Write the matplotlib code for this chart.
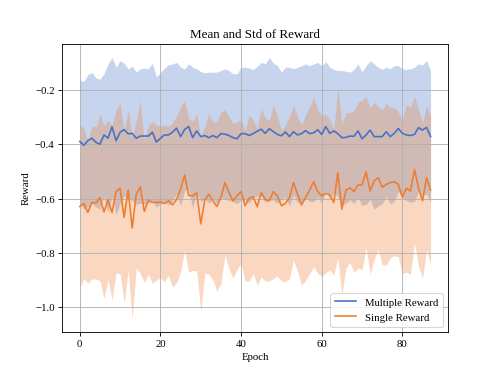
import numpy as np
import matplotlib
matplotlib.use("Agg")
import matplotlib.pyplot as plt

plt.rcParams["font.family"] = ["Liberation Serif", "DejaVu Serif"]

# values
multi_mean = [
    -0.390, -0.404, -0.387, -0.378, -0.393, -0.400, -0.366, -0.378, -0.336, -0.387,
    -0.356, -0.346, -0.362, -0.360, -0.378, -0.370, -0.370, -0.370, -0.356, -0.392,
    -0.378, -0.366, -0.366, -0.356, -0.341, -0.372, -0.346, -0.335, -0.376, -0.351,
    -0.372, -0.368, -0.376, -0.368, -0.376, -0.361, -0.363, -0.368, -0.376, -0.380,
    -0.361, -0.361, -0.368, -0.361, -0.352, -0.345, -0.360, -0.343, -0.354, -0.364,
    -0.369, -0.355, -0.372, -0.354, -0.366, -0.361, -0.350, -0.361, -0.358, -0.347,
    -0.364, -0.335, -0.360, -0.351, -0.361, -0.376, -0.375, -0.370, -0.371, -0.351,
    -0.380, -0.366, -0.348, -0.372, -0.372, -0.372, -0.354, -0.372, -0.360, -0.342,
    -0.360, -0.366, -0.368, -0.364, -0.339, -0.348, -0.338, -0.372,
]
multi_std = [
    0.225, 0.235, 0.243, 0.241, 0.237, 0.239, 0.225, 0.273, 0.255, 0.270,
    0.263, 0.244, 0.239, 0.247, 0.243, 0.247, 0.250, 0.247, 0.254, 0.239,
    0.241, 0.246, 0.258, 0.251, 0.242, 0.255, 0.223, 0.230, 0.259, 0.228,
    0.239, 0.231, 0.241, 0.233, 0.241, 0.232, 0.240, 0.238, 0.235, 0.239,
    0.244, 0.244, 0.248, 0.236, 0.238, 0.246, 0.255, 0.262, 0.252, 0.253,
    0.234, 0.238, 0.255, 0.231, 0.249, 0.250, 0.245, 0.250, 0.253, 0.248,
    0.253, 0.238, 0.243, 0.226, 0.232, 0.247, 0.243, 0.235, 0.246, 0.246,
    0.245, 0.255, 0.255, 0.267, 0.255, 0.247, 0.237, 0.249, 0.249, 0.231,
    0.237, 0.241, 0.245, 0.247, 0.234, 0.240, 0.245, 0.243,
]
single_mean = [
    -0.629, -0.618, -0.651, -0.614, -0.616, -0.596, -0.649, -0.605, -0.651, -0.574,
    -0.562, -0.669, -0.569, -0.708, -0.584, -0.557, -0.647, -0.605, -0.614, -0.614,
    -0.612, -0.618, -0.608, -0.623, -0.603, -0.566, -0.513, -0.588, -0.590, -0.578,
    -0.693, -0.605, -0.584, -0.608, -0.629, -0.596, -0.541, -0.578, -0.608, -0.590,
    -0.574, -0.626, -0.598, -0.593, -0.630, -0.578, -0.603, -0.608, -0.574, -0.590,
    -0.626, -0.618, -0.596, -0.541, -0.584, -0.623, -0.596, -0.569, -0.538, -0.574,
    -0.590, -0.581, -0.586, -0.614, -0.505, -0.639, -0.569, -0.560, -0.574, -0.550,
    -0.550, -0.501, -0.572, -0.535, -0.523, -0.558, -0.548, -0.541, -0.538, -0.548,
    -0.594, -0.562, -0.572, -0.493, -0.560, -0.608, -0.523, -0.569,
]
single_std = [
    0.300, 0.276, 0.260, 0.282, 0.279, 0.306, 0.318, 0.291, 0.321, 0.299,
    0.314, 0.315, 0.297, 0.334, 0.270, 0.318, 0.261, 0.273, 0.297, 0.285,
    0.279, 0.288, 0.273, 0.302, 0.306, 0.303, 0.276, 0.282, 0.274, 0.288,
    0.321, 0.270, 0.294, 0.290, 0.311, 0.315, 0.267, 0.279, 0.285, 0.271,
    0.264, 0.277, 0.305, 0.282, 0.288, 0.309, 0.301, 0.294, 0.320, 0.294,
    0.276, 0.288, 0.297, 0.285, 0.283, 0.294, 0.305, 0.305, 0.312, 0.300,
    0.296, 0.291, 0.276, 0.267, 0.312, 0.312, 0.286, 0.276, 0.297, 0.305,
    0.312, 0.277, 0.306, 0.288, 0.264, 0.284, 0.297, 0.276, 0.272, 0.267,
    0.282, 0.308, 0.306, 0.270, 0.288, 0.286, 0.264, 0.273,
]

epochs = np.arange(len(multi_mean))
series = [
    ("Multiple Reward", np.array(multi_mean), np.array(multi_std), "#4472C4"),
    ("Single Reward", np.array(single_mean), np.array(single_std), "#ED7D31"),
]

fig, ax = plt.subplots(figsize=(6.4, 4.8), dpi=77.8)
for label, mean, std, color in series:
    ax.plot(epochs, mean, color=color, label=label)
    ax.fill_between(epochs, mean - std, mean + std, color=color, alpha=0.3, linewidth=0)

ax.set_title("Mean and Std of Reward")
ax.set_xlabel("Epoch")
ax.set_ylabel("Reward")
ax.grid(True)
ax.legend(loc="lower right")

fig.savefig("out.png")
